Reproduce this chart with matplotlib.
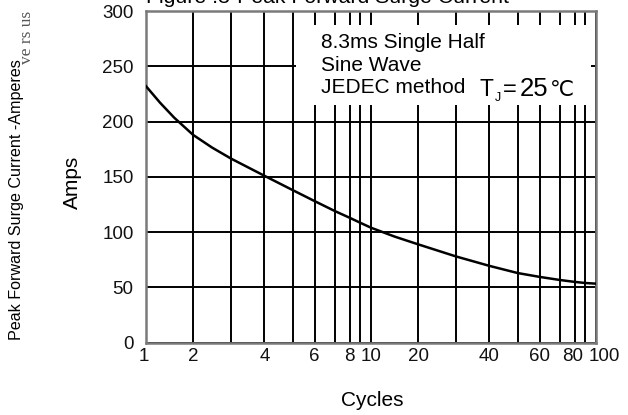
import numpy as np
import matplotlib
matplotlib.use("Agg")
import matplotlib.pyplot as plt
from matplotlib.patches import Rectangle
from matplotlib.transforms import ScaledTranslation

plt.rcParams["font.family"] = ["Liberation Sans", "DejaVu Sans"]

# ---- data ----
cycles = [1, 1.3, 1.6, 2, 2.5, 3, 4, 5, 6, 7, 8, 9, 10, 15, 20, 30, 40, 50, 60, 70, 80, 90, 100]
amps = [232, 217, 203.5, 188, 176.5, 166.5, 151, 138, 128, 119, 113, 108.5, 104, 96, 89,
        78, 69.5, 63, 59.5, 56.7, 55, 54, 53.4]

yticks = [0, 50, 100, 150, 200, 250, 300]
xtick_vals = [1, 2, 4, 6, 8, 10, 20, 40, 60, 80, 100]
xtick_labels = ["1", "2", "4", "6", "8", "10", "20", "40", "60", "80", "100"]
xminor_vals = [3, 5, 7, 9, 30, 50, 70, 90]

# the printed log paper is not a true log grid: where each mantissa sits in a decade
mant = [1, 2, 3, 4, 5, 6, 7, 8, 9, 10]
mant_pos = [0, .209, .378, .526, .652, .750, .840, .905, .952, 1.0]


def fwd(x):
    x = np.clip(np.asarray(x, float), 1e-9, None)
    dec = np.floor(np.log10(x) + 1e-12)
    m = x / 10 ** dec
    return dec + np.interp(m, mant, mant_pos)


def inv(y):
    y = np.asarray(y, float)
    dec = np.floor(y + 1e-12)
    return np.interp(y - dec, mant_pos, mant) * 10 ** dec


W, H = 628, 415


def px(x, y):
    return x / W, 1 - y / H


fig = plt.figure(figsize=(W / 100, H / 100), dpi=100)
ax = fig.add_axes([146 / W, 1 - 342.7 / H, 450 / W, 331.7 / H])

ax.set_xscale("function", functions=(fwd, inv))
ax.set_xlim(1, 100)
ax.set_ylim(0, 300)

ax.set_xticks(xtick_vals)
ax.set_xticklabels(xtick_labels)
ax.set_xticks(xminor_vals, minor=True)
ax.set_yticks(yticks)
ax.tick_params(which="both", length=0, labelsize=13.5, colors="#111111")
ax.tick_params(axis="y", pad=9)
ax.tick_params(axis="x", pad=4)

# "1" sits a bit left, "100" is pushed right of its line in the scan
xl = ax.get_xticklabels()
xl[0].set_transform(xl[0].get_transform() + ScaledTranslation(-2 / 100, 0, fig.dpi_scale_trans))
xl[-1].set_transform(xl[-1].get_transform() + ScaledTranslation(8 / 100, 0, fig.dpi_scale_trans))
xl[-2].set_transform(xl[-2].get_transform() + ScaledTranslation(-2 / 100, 0, fig.dpi_scale_trans))

ax.set_axisbelow(True)
ax.grid(which="both", color="black", lw=1.4)

for s in ax.spines.values():
    s.set_color("#7a7a7a")
    s.set_linewidth(1.8)

# blank area behind the note text
ax.add_patch(Rectangle((5.15, 215), 95.5 - 5.15, 287 - 215,
                       facecolor="white", edgecolor="none", zorder=1))

ax.plot(cycles, amps, color="black", lw=1.8, zorder=3)

# note text
fig.text(*px(321, 48), "8.3ms Single Half", fontsize=15, va="baseline")
fig.text(*px(321, 71), "Sine Wave", fontsize=15, va="baseline")
fig.text(*px(321, 93), "JEDEC method", fontsize=15, va="baseline")
fig.text(*px(479, 96.5), "T", fontsize=16.5, va="baseline")
fig.text(*px(494.5, 101), "J", fontsize=9, va="baseline")
fig.text(*px(503, 96.5), "=", fontsize=17, va="baseline")
fig.text(*px(520, 96.5), "25", fontsize=18.5, va="baseline")
fig.text(*px(550, 96.5), "℃", family=["DejaVu Sans"], fontsize=15.5, va="baseline")

# labels
fig.text(*px(328, 3), "Figure .3-Peak Forward Surge Current", fontsize=15.3,
         ha="center", va="baseline")
fig.text(*px(372, 400), "Cycles", fontsize=15, ha="center", va="center")
fig.text(*px(72, 182), "Amps", fontsize=15, ha="center", va="center", rotation=90)
fig.text(*px(17, 340), "Peak Forward Surge Current -Amperes",
         family=["Liberation Sans Narrow", "DejaVu Sans Condensed", "Liberation Sans"],
         fontsize=11.6, ha="left", va="center", rotation=90, rotation_mode="anchor")
fig.text(*px(27, 64), "ve rs us", family=["Liberation Serif"], fontsize=12.5,
         color="#555555", ha="left", va="center", rotation=90, rotation_mode="anchor")

fig.savefig("out.png", dpi=100)
